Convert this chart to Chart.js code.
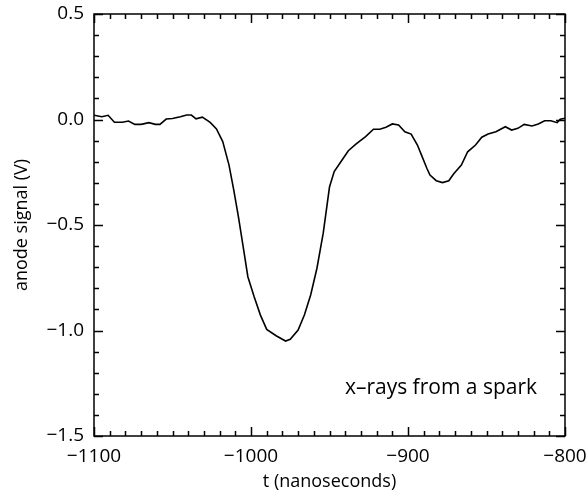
<!DOCTYPE html>
<html>
<head>
<meta charset="utf-8">
<script src="https://cdn.jsdelivr.net/npm/chart.js@4.4.0/dist/chart.umd.min.js"></script>
<style>
  html, body { margin: 0; padding: 0; background: #fff; }
  #wrap { width: 588px; height: 491px; }
</style>
</head>
<body>
<div id="wrap"><canvas id="c" width="588" height="491"></canvas></div>
<script>
// time samples (ns) and anode signal (V)
const times = [
  -1100, -1095, -1091, -1087, -1082, -1078, -1074, -1070, -1065, -1061,
  -1058, -1054, -1050, -1045, -1041, -1038, -1035, -1031, -1026, -1022,
  -1018, -1014, -1011, -1008, -1005, -1002, -998, -994, -990, -984,
  -978, -975, -970, -966, -962, -958, -954, -950, -947, -942,
  -938, -933, -927, -922, -918, -914, -910, -906, -902, -898,
  -894, -891, -888, -886, -882, -878, -874, -871, -866, -862,
  -857, -853, -849, -844, -838, -834, -830, -826, -821, -817,
  -813, -809, -805, -803, -800
];
const signal = [
  0.020, 0.013, 0.020, -0.013, -0.013, -0.007, -0.023, -0.023, -0.015, -0.023,
  -0.023, 0.002, 0.005, 0.013, 0.021, 0.021, 0.003, 0.011, -0.014, -0.045,
  -0.105, -0.216, -0.334, -0.461, -0.603, -0.745, -0.840, -0.927, -0.995, -1.025,
  -1.050, -1.042, -0.998, -0.927, -0.832, -0.705, -0.539, -0.320, -0.247, -0.192,
  -0.148, -0.116, -0.081, -0.046, -0.046, -0.037, -0.021, -0.026, -0.058, -0.069,
  -0.121, -0.176, -0.231, -0.263, -0.290, -0.299, -0.290, -0.258, -0.216, -0.153,
  -0.121, -0.084, -0.069, -0.058, -0.034, -0.050, -0.042, -0.023, -0.031, -0.021,
  -0.006, -0.006, -0.015, 0.001, 0.006
];
const xRange = [-1100, -800];
const yRange = [-1.5, 0.5];
const note = "x\u2013rays from a spark";
const notePos = [-879, -1.272];

const FONT = "'Open Sans', 'DejaVu Sans', sans-serif";
const minus = (s) => s.replace("-", "\u2212");

// box and inward ticks on all four sides
const frame = {
  id: "frame",
  afterDraw(chart) {
    const ctx = chart.ctx;
    const a = chart.chartArea;
    const x = chart.scales.x, y = chart.scales.y;
    ctx.save();
    ctx.strokeStyle = "#000";
    ctx.lineWidth = 1.5;
    ctx.strokeRect(a.left, a.top, a.right - a.left, a.bottom - a.top);
    ctx.beginPath();
    for (let v = xRange[0]; v <= xRange[1]; v += 10) {
      const px = Math.round(x.getPixelForValue(v)) + 0.5;
      const len = v % 100 === 0 ? 9 : 5;
      ctx.moveTo(px, a.bottom); ctx.lineTo(px, a.bottom - len);
      ctx.moveTo(px, a.top); ctx.lineTo(px, a.top + len);
    }
    for (let i = 0; i <= 20; i++) {
      const v = yRange[0] + i * 0.1;
      const py = Math.round(y.getPixelForValue(v)) + 0.5;
      const len = i % 5 === 0 ? 9 : 5;
      ctx.moveTo(a.left, py); ctx.lineTo(a.left + len, py);
      ctx.moveTo(a.right, py); ctx.lineTo(a.right - len, py);
    }
    ctx.stroke();
    ctx.fillStyle = "#000";
    ctx.font = "21px " + FONT;
    ctx.textAlign = "center";
    ctx.textBaseline = "middle";
    ctx.fillText(note, x.getPixelForValue(notePos[0]), y.getPixelForValue(notePos[1]));
    ctx.restore();
  }
};

new Chart(document.getElementById("c"), {
  type: "line",
  data: {
    datasets: [{
      data: times.map((t, i) => ({ x: t, y: signal[i] })),
      borderColor: "#000",
      borderWidth: 1.6,
      pointRadius: 0,
      tension: 0,
      fill: false
    }]
  },
  options: {
    responsive: false,
    animation: false,
    layout: { padding: { top: 14, right: 23, left: 0, bottom: 0 } },
    plugins: { legend: { display: false }, tooltip: { enabled: false } },
    scales: {
      x: {
        type: "linear",
        min: xRange[0], max: xRange[1],
        grid: { display: false, drawTicks: false },
        border: { display: false },
        ticks: {
          stepSize: 100, autoSkip: false, maxRotation: 0, padding: 9,
          color: "#000", font: { family: FONT, size: 19 },
          callback: (v) => minus(String(v))
        },
        title: {
          display: true, text: "t (nanoseconds)", color: "#000",
          font: { family: FONT, size: 18, lineHeight: 1 },
          padding: { top: 0, bottom: 0 }
        },
        afterFit: (s) => { s.height = 55; s.paddingLeft = 0; s.paddingRight = 0; }
      },
      y: {
        min: yRange[0], max: yRange[1],
        grid: { display: false, drawTicks: false },
        border: { display: false },
        ticks: {
          stepSize: 0.5, autoSkip: false, padding: 10,
          color: "#000", font: { family: FONT, size: 19 },
          callback: (v) => minus(v.toFixed(1))
        },
        title: {
          display: true, text: "anode signal (V)", color: "#000",
          font: { family: FONT, size: 18, lineHeight: 1.2 },
          padding: { top: 11, bottom: 0 }
        },
        afterFit: (s) => { s.width = 94; s.paddingTop = 0; s.paddingBottom = 0; }
      }
    }
  },
  plugins: [frame]
});
</script>
</body>
</html>
